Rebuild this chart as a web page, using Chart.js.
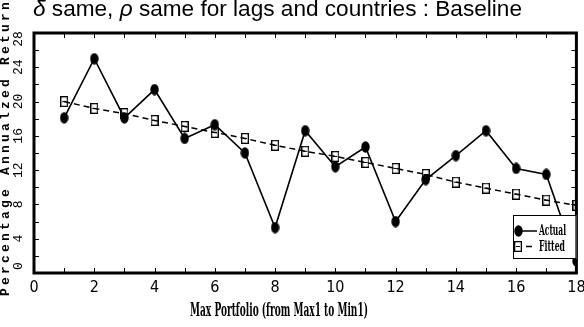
<!DOCTYPE html>
<html><head><meta charset="utf-8">
<script src="https://cdn.jsdelivr.net/npm/chart.js@4.4.1/dist/chart.umd.min.js"></script>
<style>
html,body{margin:0;padding:0;background:#fff;}
#wrap{position:relative;width:584px;height:327px;overflow:hidden;background:#fff;}
#c{position:absolute;left:0;top:0;}
#title{position:absolute;left:0;top:-4px;width:555px;text-align:center;font:22.6px 'Liberation Sans',Arial,Helvetica,sans-serif;color:#000;white-space:nowrap;line-height:26px;}
</style></head><body>
<div id="wrap"><canvas id="c" width="584" height="327"></canvas><div id="title"><i>δ</i> same, <i>ρ</i> same for lags and countries : Baseline</div></div>
<script>
// ---- data ----
const portfolios = [1,2,3,4,5,6,7,8,9,10,11,12,13,14,15,16,17,18];
const actual = [18.1,25.0,18.1,21.4,15.7,17.3,14.0,5.3,16.6,12.4,14.7,6.0,10.9,13.7,16.6,12.2,11.5,1.4];
const fitted = [20.0,19.2,18.6,17.8,17.1,16.4,15.7,14.9,14.2,13.6,12.9,12.2,11.5,10.6,9.9,9.2,8.5,7.9];
const xTickLabels = [0,2,4,6,8,10,12,14,16,18];
const yTickLabels = [0,4,8,12,16,20,24,28];
const xTitle = 'Max Portfolio (from Max1 to Min1)';
const yTitle = 'Percentage Annualzed Return';
const seriesNames = ['Actual','Fitted'];

function ellipseMarker(w,h){
  const c=document.createElement('canvas');c.width=w;c.height=h;
  const g=c.getContext('2d');g.fillStyle='#000';g.beginPath();
  g.ellipse(w/2,h/2,w/2-0.3,h/2-0.3,0,0,Math.PI*2);g.fill();return c;
}
function squareMarker(w,h){
  const c=document.createElement('canvas');c.width=w;c.height=h;
  const g=c.getContext('2d');g.strokeStyle='#000';g.lineWidth=1.3;
  g.strokeRect(0.65,0.65,w-1.3,h-1.3);
  g.lineWidth=1;g.beginPath();g.moveTo(2,h/2);g.lineTo(w-2,h/2);g.stroke();
  return c;
}
const dotImg = ellipseMarker(9,12);
const sqImg = squareMarker(8,11);

const NARROW = "'DejaVu Sans Condensed','DejaVu Sans',sans-serif";
const SERIFC = "'DejaVu Serif Condensed','DejaVu Serif',serif";

function fitText(ctx,text,cx,cy,width){
  const w=ctx.measureText(text).width;
  ctx.save();ctx.translate(cx,cy);ctx.scale(width/w,1);
  ctx.textAlign='center';ctx.textBaseline='middle';ctx.fillText(text,0,0);ctx.restore();
}

const decor = {
  id:'decor',
  afterDraw(chart){
    const ctx=chart.ctx, a=chart.chartArea, xs=chart.scales.x, ys=chart.scales.y;
    ctx.save();
    // inward ticks
    ctx.strokeStyle='#000';ctx.lineWidth=1;
    for(let v=xs.min; v<=xs.max; v+=1){
      const x=Math.round(xs.getPixelForValue(v))+0.5;
      ctx.beginPath();ctx.moveTo(x,a.bottom);ctx.lineTo(x,a.bottom-5);
      ctx.moveTo(x,a.top);ctx.lineTo(x,a.top+5);ctx.stroke();
    }
    for(let v=ys.min; v<=ys.max; v+=2){
      const y=Math.round(ys.getPixelForValue(v))+0.5;
      ctx.beginPath();ctx.moveTo(a.left,y);ctx.lineTo(a.left+5,y);
      ctx.moveTo(a.right,y);ctx.lineTo(a.right-5,y);ctx.stroke();
    }
    // frame
    ctx.lineWidth=3;
    ctx.strokeRect(a.left,a.top,a.right-a.left,a.bottom-a.top);
    // y tick labels (rotated)
    ctx.fillStyle='#000';
    ctx.font="13px 'Liberation Mono','DejaVu Sans Mono',monospace";
    ctx.textAlign='center';ctx.textBaseline='middle';
    yTickLabels.forEach(v=>{
      let y=ys.getPixelForValue(v);
      y=Math.min(a.bottom-7,Math.max(a.top+6,y));
      ctx.save();ctx.translate(19,y);ctx.rotate(-Math.PI/2);ctx.fillText(String(v),0,0);ctx.restore();
    });
    // y title
    ctx.save();
    ctx.font="bold 13px 'Liberation Mono','DejaVu Sans Mono',monospace";
    ctx.letterSpacing='3.2px';
    ctx.translate(6,149);ctx.rotate(-Math.PI/2);
    ctx.textAlign='center';ctx.textBaseline='middle';
    ctx.fillText(yTitle,1.6,0);
    ctx.restore();
    // x title
    ctx.font="bold 18px "+SERIFC;
    fitText(ctx,xTitle,279,311,178);
    // legend
    const lx=513, ly=215, lw=a.right-513, lh=44;
    ctx.fillStyle='#fff';ctx.fillRect(lx,ly,lw,lh);
    ctx.lineWidth=1;ctx.strokeStyle='#000';ctx.strokeRect(lx+0.5,ly+0.5,lw-1,lh-1);
    ctx.drawImage(dotImg,514,225);
    ctx.lineWidth=1.5;ctx.beginPath();ctx.moveTo(521,231);ctx.lineTo(537,231);ctx.stroke();
    ctx.drawImage(sqImg,514,241);
    ctx.beginPath();ctx.moveTo(526,246.5);ctx.lineTo(532,246.5);ctx.stroke();
    ctx.fillStyle='#000';ctx.font="bold 14px "+SERIFC;
    fitText(ctx,seriesNames[0],552.5,231,27);
    fitText(ctx,seriesNames[1],552,247,26);
    ctx.restore();
  }
};

new Chart(document.getElementById('c'),{
  type:'line',
  data:{
    labels:portfolios,
    datasets:[
      {label:seriesNames[1],data:portfolios.map((x,i)=>({x,y:fitted[i]})),borderColor:'#000',borderWidth:1.5,
       borderDash:[6,4],pointStyle:sqImg,pointRadius:5,backgroundColor:'#000',clip:0,tension:0},
      {label:seriesNames[0],data:portfolios.map((x,i)=>({x,y:actual[i]})),borderColor:'#000',borderWidth:1.6,
       pointStyle:dotImg,pointRadius:6,backgroundColor:'#000',clip:0,tension:0}
    ]
  },
  options:{
    responsive:false,animation:false,devicePixelRatio:1,
    layout:{padding:{left:0,right:4,top:33,bottom:0}},
    plugins:{legend:{display:false},title:{display:false},tooltip:{enabled:false}},
    scales:{
      x:{type:'linear',min:0,max:18,
        grid:{display:false,drawTicks:false},border:{display:false},
        ticks:{stepSize:2,autoSkip:false,maxRotation:0,padding:5,color:'#000',
          font:{family:NARROW,size:16},
          callback:(v)=>xTickLabels.includes(v)?String(v):''},
        title:{display:false},
        afterFit(s){s.height=54;s.paddingLeft=0;s.paddingRight=0;}
      },
      y:{type:'linear',min:0,max:28,
        grid:{display:false,drawTicks:false},border:{display:false},
        ticks:{display:false,stepSize:4},
        afterFit(s){s.width=34;s.paddingTop=0;s.paddingBottom=0;}
      }
    }
  },
  plugins:[decor]
});
</script>
</body></html>
